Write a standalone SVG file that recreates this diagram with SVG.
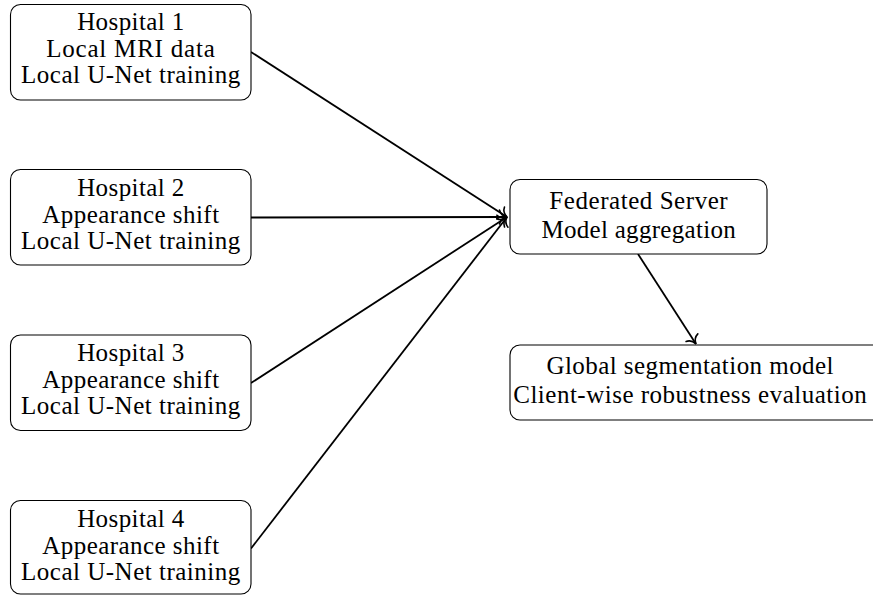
<svg xmlns="http://www.w3.org/2000/svg" width="873" height="595" viewBox="0 0 873 595">
<defs>
<style>
.box{fill:#fff;stroke:#000;stroke-width:1.1}
.c{fill:none;stroke:#000;stroke-width:1.8}
</style>
<marker id="arr" markerUnits="userSpaceOnUse" viewBox="-12 -8 14 16" markerWidth="14" markerHeight="16" refX="0" refY="0" orient="auto" overflow="visible">
<path d="M-7.5,-7 C-6.5,-2.7 -2.7,-0.6 0,0 C-2.7,0.6 -6.5,2.7 -7.5,7" fill="none" stroke="#000" stroke-width="1.6" stroke-linecap="round"/>
</marker>
</defs>
<rect width="873" height="595" fill="#fff"/>
<g id="connectors">
<line class="c" x1="251" y1="52" x2="507" y2="217" marker-end="url(#arr)"/>
<line class="c" x1="251" y1="217.5" x2="507" y2="217" marker-end="url(#arr)"/>
<line class="c" x1="251" y1="383" x2="507" y2="217" marker-end="url(#arr)"/>
<line class="c" x1="251" y1="548.5" x2="507" y2="217" marker-end="url(#arr)"/>
<line class="c" x1="638" y1="254" x2="696" y2="344" marker-end="url(#arr)"/>
</g>
<g id="hospital1">
<rect class="box" x="10.5" y="4.5" width="240.5" height="95.5" rx="10"/>
<text x="130.9" y="30" style="font-family:'Liberation Serif',serif;font-size:25px;letter-spacing:0.4px" text-anchor="middle">Hospital 1</text>
<text x="130.9" y="57" style="font-family:'Liberation Serif',serif;font-size:25px;letter-spacing:0.8px" text-anchor="middle">Local MRI data</text>
<text x="130.9" y="83" style="font-family:'Liberation Serif',serif;font-size:25px;letter-spacing:0.5px" text-anchor="middle">Local U-Net training</text>
</g>
<g id="hospital2">
<rect class="box" x="10.5" y="169.5" width="240.5" height="95.5" rx="10"/>
<text x="130.9" y="195.5" style="font-family:'Liberation Serif',serif;font-size:25px;letter-spacing:0.4px" text-anchor="middle">Hospital 2</text>
<text x="130.9" y="222.5" style="font-family:'Liberation Serif',serif;font-size:25px;letter-spacing:0.45px" text-anchor="middle">Appearance shift</text>
<text x="130.9" y="248.5" style="font-family:'Liberation Serif',serif;font-size:25px;letter-spacing:0.5px" text-anchor="middle">Local U-Net training</text>
</g>
<g id="hospital3">
<rect class="box" x="10.5" y="335" width="240.5" height="95.5" rx="10"/>
<text x="130.9" y="361" style="font-family:'Liberation Serif',serif;font-size:25px;letter-spacing:0.4px" text-anchor="middle">Hospital 3</text>
<text x="130.9" y="388" style="font-family:'Liberation Serif',serif;font-size:25px;letter-spacing:0.45px" text-anchor="middle">Appearance shift</text>
<text x="130.9" y="414" style="font-family:'Liberation Serif',serif;font-size:25px;letter-spacing:0.5px" text-anchor="middle">Local U-Net training</text>
</g>
<g id="hospital4">
<rect class="box" x="10.5" y="500.5" width="240.5" height="93.5" rx="10"/>
<text x="130.9" y="526.5" style="font-family:'Liberation Serif',serif;font-size:25px;letter-spacing:0.4px" text-anchor="middle">Hospital 4</text>
<text x="130.9" y="553.5" style="font-family:'Liberation Serif',serif;font-size:25px;letter-spacing:0.45px" text-anchor="middle">Appearance shift</text>
<text x="130.9" y="579.5" style="font-family:'Liberation Serif',serif;font-size:25px;letter-spacing:0.5px" text-anchor="middle">Local U-Net training</text>
</g>
<g id="server">
<rect class="box" x="510" y="179.5" width="257" height="74.5" rx="10"/>
<text x="638.8" y="208.5" style="font-family:'Liberation Serif',serif;font-size:25px;letter-spacing:0.55px" text-anchor="middle">Federated Server</text>
<text x="638.7" y="238" style="font-family:'Liberation Serif',serif;font-size:25px;letter-spacing:0.3px" text-anchor="middle">Model aggregation</text>
</g>
<g id="global">
<rect class="box" x="510" y="345" width="372" height="75" rx="10"/>
<text x="690.2" y="373.5" style="font-family:'Liberation Serif',serif;font-size:25px;letter-spacing:0.45px" text-anchor="middle">Global segmentation model</text>
<text x="690.2" y="403" style="font-family:'Liberation Serif',serif;font-size:25px;letter-spacing:0.5px" text-anchor="middle">Client-wise robustness evaluation</text>
</g>
</svg>
